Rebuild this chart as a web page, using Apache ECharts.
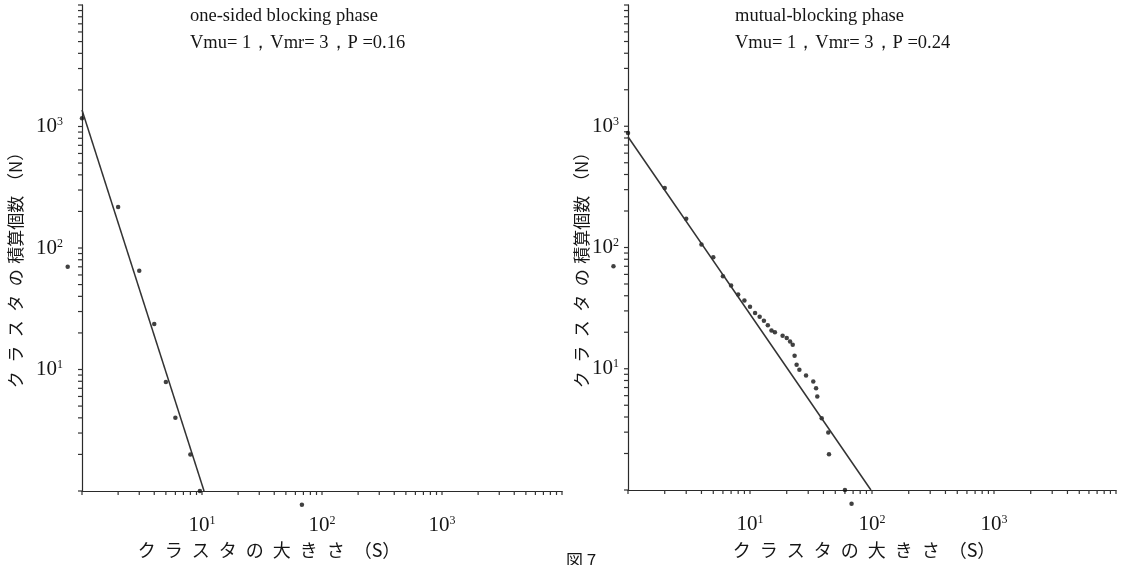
<!DOCTYPE html>
<html>
<head>
<meta charset="utf-8">
<script src="https://cdn.jsdelivr.net/npm/echarts@6/dist/echarts.min.js"></script>
<style>
  html, body { margin: 0; padding: 0; background: #fff; }
  #chart { width: 1128px; height: 565px; }
</style>
</head>
<body>
<div id="chart"></div>
<script>
// one-sided blocking phase (P = 0.16)
const sizeA = [1, 2, 3, 4, 5, 6, 8, 9.6];
const countA = [1170, 217, 65, 23.7, 7.9, 4.0, 2.0, 1];
const fitA = [[1, 1367], [10.4, 1]];

// mutual-blocking phase (P = 0.24)
const sizeB = [1, 2, 3, 4, 5, 6, 7, 8, 9, 10, 11, 12, 13, 14, 15, 16, 18.5, 20, 21.3, 22.4,
  23.2, 24.1, 25.4, 28.8, 33, 34.8, 35.6, 38.7, 43.8, 44.4, 60];
const countB = [880, 309, 173, 106, 83, 58, 48.5, 41, 36.5, 32.4, 28.8, 26.8, 24.9, 22.8, 20.7, 20, 18.7, 17.9, 16.8, 15.8,
  12.8, 10.8, 9.8, 8.8, 7.85, 6.9, 5.9, 3.9, 2.98, 1.97, 1];
const fitB = [[1, 820], [98, 1]];

// stray print marks outside the axes (same in both panels)
const straySize = [0.76, 68];
const strayCount = [70, 0.77];

// small tick marks along the log axes
const minorTicks = [1, 2, 3, 4, 5, 6, 7, 8, 9,
  10, 20, 30, 40, 50, 60, 70, 80, 90,
  100, 200, 300, 400, 500, 600, 700, 800, 900,
  1000, 2000, 3000, 4000, 5000, 6000, 7000, 8000, 9000, 10000];

const titleA = ['one-sided blocking phase', 'Vmu= 1，Vmr= 3，P =0.16'];
const titleB = ['mutual-blocking phase', 'Vmu= 1，Vmr= 3，P =0.24'];
const xName = 'ク\u2002ラ\u2002ス\u2002タ\u2002の\u2002大\u2002き\u2002さ\u2002（S）';
const yName = 'ク\u2002ラ\u2002ス\u2002タ\u2002の\u2004積算個数\u2004（N）';

const serif = "'Liberation Serif', 'DejaVu Serif', serif";
const cjk = "'Noto Sans CJK JP', sans-serif";
const ink = '#151515';

function pairs(xs, ys) {
  return xs.map((x, i) => [x, ys[i]]);
}

function powerLabel(v) {
  const e = Math.round(Math.log10(v));
  if (e < 1 || e > 3) return '';
  return '{b|10}{s|' + e + '}';
}

const labelRich = {
  b: { fontFamily: serif, fontSize: 21, color: ink },
  s: { fontFamily: serif, fontSize: 12, color: ink, verticalAlign: 'top', padding: [0, 0, 9, 0] }
};

function logAxis(gridIndex, margin) {
  return {
    type: 'log',
    logBase: 10,
    gridIndex,
    min: 1,
    max: 10000,
    axisLine: { lineStyle: { color: '#2a2a2a', width: 1.2 } },
    axisTick: { show: false },
    splitLine: { show: false },
    axisLabel: { margin, formatter: powerLabel, rich: labelRich }
  };
}

function tickSeries(idx, vertical) {
  return {
    type: 'custom',
    xAxisIndex: idx,
    yAxisIndex: idx,
    silent: true,
    clip: false,
    data: minorTicks.map(v => (vertical ? [1, v] : [v, 1])),
    renderItem(params, api) {
      const p = api.coord([api.value(0), api.value(1)]);
      const shape = vertical
        ? { x1: p[0] - 4, y1: p[1], x2: p[0] + 1, y2: p[1] }
        : { x1: p[0], y1: p[1], x2: p[0], y2: p[1] + 4 };
      return { type: 'line', shape, style: { stroke: '#333', lineWidth: 1.2 } };
    }
  };
}

function dots(idx, xs, ys) {
  return {
    type: 'scatter',
    xAxisIndex: idx,
    yAxisIndex: idx,
    clip: false,
    symbolSize: 4.5,
    itemStyle: { color: '#111' },
    data: pairs(xs, ys)
  };
}

function fit(idx, pts) {
  return {
    type: 'line',
    xAxisIndex: idx,
    yAxisIndex: idx,
    symbol: 'none',
    lineStyle: { color: '#333', width: 1.5 },
    data: pts
  };
}

function label(x, y, str, font, size, opts) {
  opts = opts || {};
  return {
    type: 'text',
    x, y,
    rotation: opts.rotation || 0,
    style: {
      text: str, fontFamily: font, fontSize: size, fill: ink,
      align: opts.align || 'left', verticalAlign: opts.verticalAlign || 'top'
    }
  };
}

const mid = { align: 'center', verticalAlign: 'middle' };
const midUp = { align: 'center', verticalAlign: 'middle', rotation: Math.PI / 2 };

const chart = echarts.init(document.getElementById('chart'));
chart.setOption({
  backgroundColor: '#fff',
  animation: false,
  grid: [
    { left: 82, top: 5, width: 480, height: 486 },
    { left: 628, top: 5, width: 488, height: 485 }
  ],
  xAxis: [logAxis(0, 24), logAxis(1, 24)],
  yAxis: [logAxis(0, 19), logAxis(1, 9)],
  series: [
    tickSeries(0, true), tickSeries(0, false),
    tickSeries(1, true), tickSeries(1, false),
    fit(0, fitA), dots(0, sizeA, countA), dots(0, straySize, strayCount),
    fit(1, fitB), dots(1, sizeB, countB), dots(1, straySize, strayCount)
  ],
  graphic: [
    label(190, 7, titleA[0], serif, 18.5),
    label(190, 34, titleA[1], serif, 18.5),
    label(735, 7, titleB[0], serif, 18.5),
    label(735, 34, titleB[1], serif, 18.5),
    label(269, 550, xName, cjk, 18, mid),
    label(864, 550, xName, cjk, 18, mid),
    label(16, 266, yName, cjk, 17, midUp),
    label(582, 266, yName, cjk, 17, midUp),
    label(566, 552, '図 7', cjk, 17)
  ]
});
</script>
</body>
</html>
